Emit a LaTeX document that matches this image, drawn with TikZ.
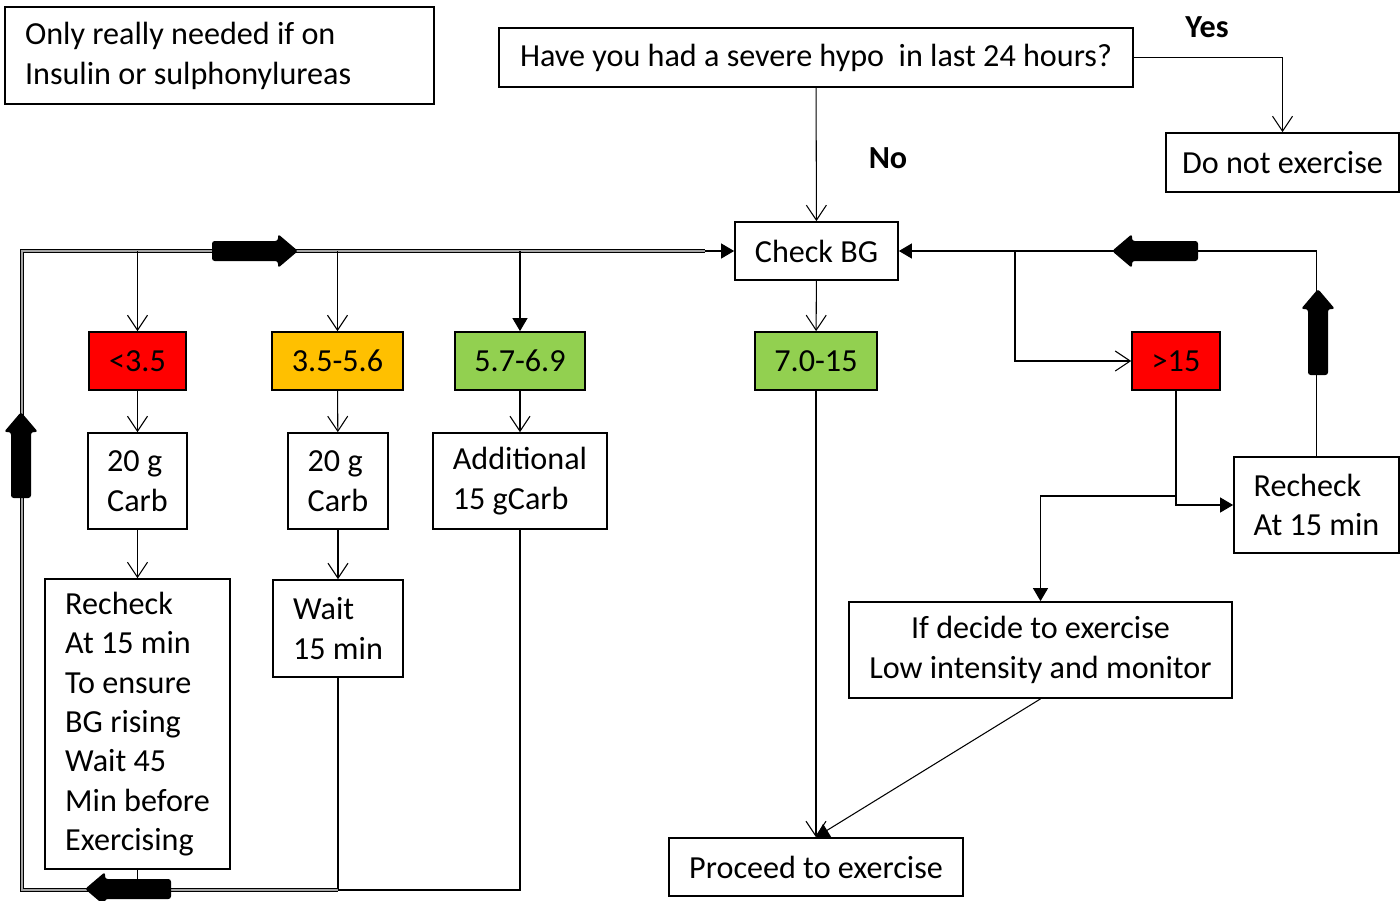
\documentclass[tikz,border=0pt]{standalone}
\usepackage{fontspec}
\setmainfont{Carlito}
\usetikzlibrary{arrows.meta}

\definecolor{bgred}{RGB}{255,0,0}
\definecolor{bgamber}{RGB}{255,192,0}
\definecolor{bggreen}{RGB}{146,208,80}
\newcommand\boxfont{\fontsize{18.3}{22.4}\selectfont}
% thick black block arrow sitting on a line
\newcommand\blockarrow[3]{%
  \fill[rounded corners=1.5pt, shift={(#1,#2)}, rotate=#3]
    (-43,-10) -- (23,-10) -- (23,-17) -- (43,0) -- (23,17) -- (23,10) -- (-43,10) -- cycle;}

\begin{document}
\begin{tikzpicture}[
    x=0.02cm, y=-0.02cm,
    box/.style={rectangle, draw, line width=1pt, inner sep=0pt,
                align=center, font=\boxfont},
    lbox/.style={box, align=left},
    band/.style={box, minimum height=1.16cm},
    link/.style={line width=0.6pt},
    open/.style={link, -{Straight Barb[length=3mm, width=4mm]}},
    tri/.style={link, -{Triangle[length=2.6mm, width=3mm]}},
    loopline/.style={double=gray!70, line width=0.7pt, double distance=0.6pt}
]
  \useasboundingbox (0,0) rectangle (1400,900);

  % top part
  \node[box, align=flush left, minimum width=8.58cm, minimum height=1.94cm, text width=7.78cm,
        font=\fontsize{18.3}{22.8}\selectfont]
    (note) at (219.5,55.5) {Only really needed if on\\Insulin or sulphonylureas};
  \node[box, minimum width=12.68cm, minimum height=1.18cm]
    (hypo) at (816,57.5) {Have you had a severe hypo\ \ in last 24 hours?};
  \node[box, minimum width=4.66cm, minimum height=1.18cm]
    (dont) at (1282.5,162.5) {Do not exercise};
  \node[font=\bfseries\boxfont] (yes) at (1207,27) {Yes};
  \node[font=\bfseries\boxfont] (no) at (888,158) {No};
  \node[band, minimum width=3.26cm] (check) at (816.5,251) {Check BG};

  % bands
  \node[band, fill=bgred, minimum width=1.94cm] (low) at (137.5,361) {<3.5};
  \node[band, fill=bgamber, minimum width=2.62cm] (amber) at (337.5,361) {3.5-5.6};
  \node[band, fill=bggreen, minimum width=2.6cm] (mid) at (520,361) {5.7-6.9};
  \node[band, fill=bggreen, minimum width=2.44cm] (ok) at (816,361) {7.0-15};
  \node[band, fill=bgred, minimum width=1.76cm] (high) at (1176,361) {>15};

  % actions
  \node[lbox, minimum width=1.98cm, minimum height=1.92cm] (carbA) at (137.5,481) {20 g\\Carb};
  \node[lbox, minimum width=2cm, minimum height=1.92cm] (carbB) at (338,481) {20 g\\Carb};
  \node[lbox, minimum width=3.48cm, minimum height=1.92cm] (carbC) at (520,481) {Additional\\15 gCarb};
  \node[lbox, minimum width=3.7cm, minimum height=5.8cm] (recheckA) at (137.5,724)
    {Recheck\\At 15 min\\To ensure\\BG rising\\Wait 45\\Min before\\Exercising};
  \node[lbox, minimum width=2.6cm, minimum height=1.94cm] (wait) at (338,628.5) {Wait\\15 min};
  \node[lbox, minimum width=3.3cm, minimum height=1.92cm] (recheckB) at (1316.5,505) {Recheck\\At 15 min};
  \node[box, minimum width=7.66cm, minimum height=1.92cm] (decide) at (1040.5,650)
    {If decide to exercise\\Low intensity and monitor};
  \node[band, minimum width=5.88cm] (go) at (816,867) {Proceed to exercise};

  \coordinate (bl) at (22,890);
  \coordinate (tl) at (22,251);
  \coordinate (tin) at (705,251);
  \coordinate (fork) at (1015,251);
  \coordinate (split) at (1176,496);

  % connectors
  \draw[open] (hypo) -- (check);
  \draw[open] (hypo.east) -| (dont.north);
  \draw[open] (check) -- (ok);
  \draw[open] (ok) -- (go);
  \draw[tri] (decide.south) -- (go.north);

  \draw[open] (low) -- (carbA);
  \draw[open] (carbA) -- (recheckA);
  \draw[open] (amber) -- (carbB);
  \draw[open] (carbB) -- (wait);
  \draw[open] (mid) -- (carbC);

  % loop back to Check BG
  \draw[link] (carbC.south) |- (wait.south |- bl);
  \draw[link] (wait.south) -- (wait.south |- bl);
  \draw[link] (recheckA.south) -- (recheckA.south |- bl);
  \draw[loopline] (wait.south |- bl) -- (bl) -- (tl) -- (tin);
  \draw[tri] (tin) -- (check.west);
  \draw[open] (low.north |- tl) -- (low.north);
  \draw[open] (amber.north |- tl) -- (amber.north);
  \draw[tri] (mid.north |- tl) -- (mid.north);

  % high side
  \draw[tri] (recheckB.north) |- (check.east);
  \draw[open] (fork) |- (high.west);
  \draw[tri] (high.south) |- (recheckB.west);
  \draw[tri] (split) -| (decide.north);

  \blockarrow{255}{251}{0}
  \blockarrow{21}{455}{90}
  \blockarrow{128}{889}{180}
  \blockarrow{1155}{251}{180}
  \blockarrow{1318}{332}{90}
\end{tikzpicture}
\end{document}
